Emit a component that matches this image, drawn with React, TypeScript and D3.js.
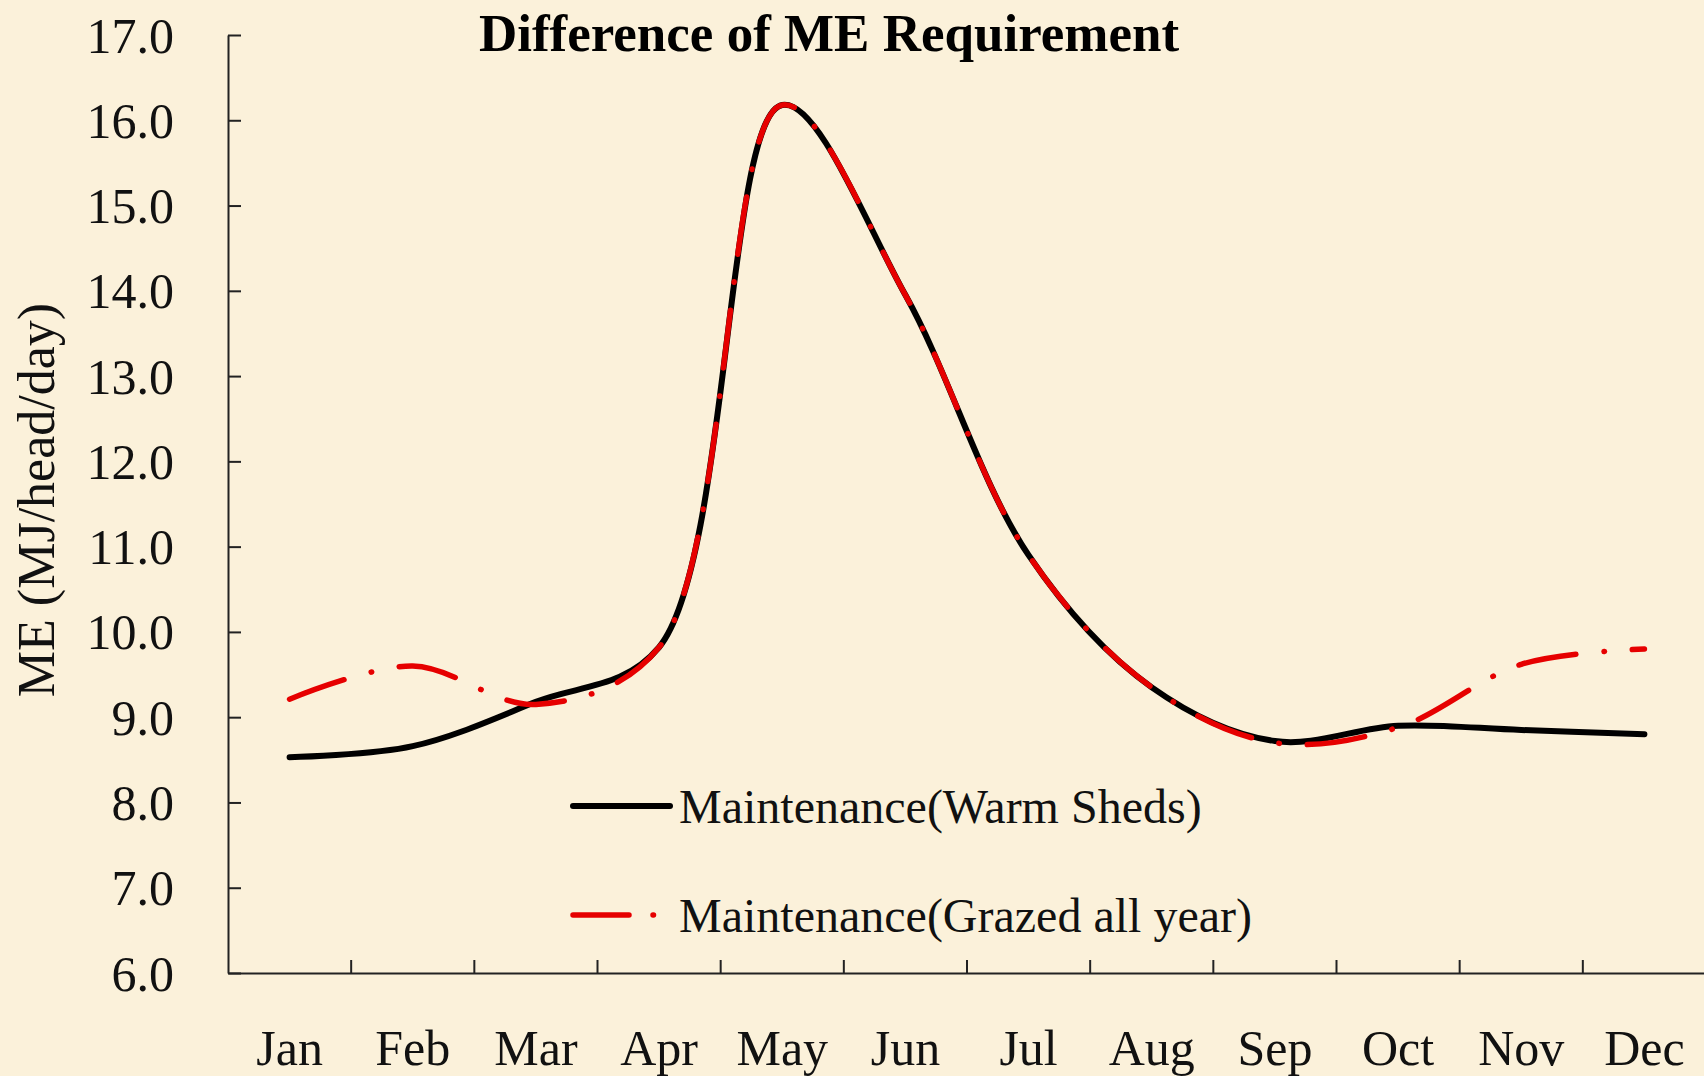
import React, { useEffect, useRef } from "react";
import * as d3 from "d3";

const months = ["Jan", "Feb", "Mar", "Apr", "May", "Jun", "Jul", "Aug", "Sep", "Oct", "Nov", "Dec"];
const warmSheds = [8.53, 8.66, 9.18, 9.82, 16.18, 13.95, 10.9, 9.35, 8.72, 8.9, 8.85, 8.8];
const grazedAllYear = [9.21, 9.6, 9.15, 9.82, 16.18, 13.95, 10.9, 9.35, 8.7, 8.88, 9.62, 9.8];
const yTicks = [6, 7, 8, 9, 10, 11, 12, 13, 14, 15, 16, 17];
const seriesNames = ["Maintenance(Warm Sheds)", "Maintenance(Grazed all year)"];

const FONT = "'Liberation Serif', 'Times New Roman', serif";

export default function App() {
  const svgRef = useRef<SVGSVGElement>(null);

  useEffect(() => {
    const width = 1704;
    const height = 1076;
    const marginTop = 35;
    const marginBottom = 103;
    const marginLeft = 228;

    const svg = d3.select(svgRef.current);
    svg.selectAll("*").remove();
    svg.attr("width", width).attr("height", height).attr("viewBox", [0, 0, width, height].join(" "));

    svg.append("rect").attr("width", width).attr("height", height).attr("fill", "#fbf1da");

    const x = d3.scaleBand().domain(months).range([marginLeft, width + 2]);
    const y = d3.scaleLinear().domain([6, 17]).range([height - marginBottom, marginTop]);

    // y axis, ticks point inward
    svg
      .append("g")
      .attr("transform", `translate(${marginLeft},0)`)
      .attr("color", "#222")
      .call(
        d3
          .axisLeft(y)
          .tickValues(yTicks)
          .tickSize(-13)
          .tickSizeOuter(0)
          .tickPadding(54)
          .tickFormat(d3.format(".1f"))
      )
      .call((g) => g.selectAll("path, line").attr("stroke-width", 2))
      .call((g) =>
        g
          .selectAll(".tick text")
          .attr("font-family", FONT)
          .attr("font-size", 50)
          .attr("fill", "#111")
          .attr("dy", "0.34em")
      );

    // x axis: labels at band centres, ticks at band boundaries
    const xAxis = svg
      .append("g")
      .attr("transform", `translate(0,${height - marginBottom})`)
      .attr("color", "#222")
      .call(d3.axisBottom(x).tickSize(0).tickSizeOuter(0).tickPadding(56))
      .call((g) => g.select(".domain").attr("stroke-width", 2))
      .call((g) =>
        g
          .selectAll(".tick text")
          .attr("font-family", FONT)
          .attr("font-size", 50)
          .attr("fill", "#111")
      );

    xAxis
      .selectAll("line.boundary")
      .data(months.slice(1))
      .join("line")
      .attr("class", "boundary")
      .attr("x1", (d) => x(d)!)
      .attr("x2", (d) => x(d)!)
      .attr("y1", 0)
      .attr("y2", -13)
      .attr("stroke", "#222")
      .attr("stroke-width", 2);

    const line = d3
      .line<number>()
      .x((d, i) => x(months[i])! + x.bandwidth() / 2)
      .y((d) => y(d))
      .curve(d3.curveCatmullRom.alpha(0.5));

    svg
      .append("path")
      .datum(warmSheds)
      .attr("fill", "none")
      .attr("stroke", "#000")
      .attr("stroke-width", 6)
      .attr("stroke-linecap", "round")
      .attr("d", line);

    svg
      .append("path")
      .datum(grazedAllYear)
      .attr("fill", "none")
      .attr("stroke", "#e60000")
      .attr("stroke-width", 5.5)
      .attr("stroke-linecap", "round")
      .attr("stroke-dasharray", "58 28 0.5 28")
      .attr("d", line);

    // Title
    svg
      .append("text")
      .attr("x", 829)
      .attr("y", 51)
      .attr("text-anchor", "middle")
      .attr("font-family", FONT)
      .attr("font-weight", "bold")
      .attr("font-size", 53)
      .attr("fill", "#000")
      .text("Difference of ME Requirement");

    // y label
    svg
      .append("text")
      .attr("transform", `translate(54,500) rotate(-90)`)
      .attr("text-anchor", "middle")
      .attr("font-family", FONT)
      .attr("font-size", 52)
      .attr("fill", "#111")
      .text("ME (MJ/head/day)");

    // Legend
    const legend = svg
      .append("g")
      .selectAll("g")
      .data(seriesNames)
      .join("g")
      .attr("transform", (d, i) => `translate(573,${806 + i * 109})`);

    legend
      .append("line")
      .attr("x1", 0)
      .attr("x2", 97)
      .attr("y1", 0)
      .attr("y2", 0)
      .attr("stroke", (d, i) => (i === 0 ? "#000" : "#e60000"))
      .attr("stroke-width", (d, i) => (i === 0 ? 6 : 5.5))
      .attr("stroke-linecap", "round")
      .attr("stroke-dasharray", (d, i) => (i === 0 ? null : "56 24 0.5 40"));

    legend
      .append("text")
      .attr("x", 106)
      .attr("y", 17)
      .attr("font-family", FONT)
      .attr("font-size", 48)
      .attr("fill", "#111")
      .text((d) => d);
  }, []);

  return (
    <div style={{ position: "absolute", left: 0, top: 0 }}>
      <svg ref={svgRef} style={{ display: "block" }}></svg>
    </div>
  );
}
